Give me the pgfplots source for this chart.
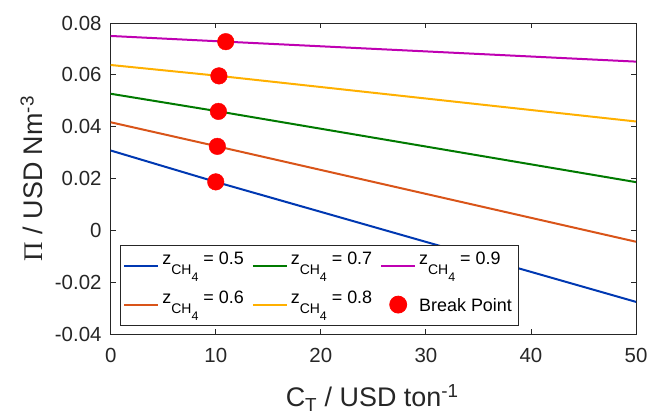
\documentclass[border=0pt]{standalone}
\usepackage{fontspec}
\setmainfont{Liberation Sans}
\newfontfamily\serifgr{Liberation Serif}
\usepackage{pgfplots}
\pgfplotsset{compat=1.18}
\definecolor{cfive}{rgb}{0.0,0.22,0.70}
\definecolor{csix}{rgb}{0.85,0.33,0.10}
\definecolor{cseven}{rgb}{0.0,0.48,0.0}
\definecolor{ceight}{rgb}{1.0,0.69,0.0}
\definecolor{cnine}{rgb}{0.75,0.0,0.70}
\definecolor{axgray}{rgb}{0.15,0.15,0.15}
\newcommand{\zch}{z\raisebox{-10bp}{\fontsize{14}{14}\selectfont CH\raisebox{-7bp}{\fontsize{12.5}{12}\selectfont 4}}}
\newcommand{\legstrut}{\pgfpathmoveto{\pgfqpoint{0bp}{15.8bp}}\pgfpathlineto{\pgfqpoint{0bp}{-18.2bp}}\pgfusepath{discard}}
\pgfplotsset{
  lineleg/.style={legend image code/.code={\legstrut\draw[##1, line width=2bp] (0bp,-1.7bp) -- (34bp,-1.7bp);}},
  markleg/.style={legend image code/.code={\legstrut\draw[##1] plot coordinates {(17bp,-1bp)};}},
}
\begin{document}
\begin{tikzpicture}
\begin{axis}[
  scale only axis, width=525.3bp, height=311bp,
  xmin=0, xmax=50, ymin=-0.04, ymax=0.08,
  xtick={0,10,20,30,40,50},
  ytick={-0.04,-0.02,0,0.02,0.04,0.06,0.08},
  yticklabels={-0.04,-0.02,0,0.02,0.04,0.06,0.08},
  scaled y ticks=false,
  tick align=inside, tick pos=both,
  major tick length=5bp,
  axis line style={draw=axgray, line width=0.8bp},
  every tick/.style={draw=axgray, line width=0.8bp},
  /pgf/number format/assume math mode=true,
  tick label style={font=\fontsize{20.5}{24}\selectfont, text=axgray},
  xticklabel style={inner sep=0pt, anchor=north, yshift=-14bp},
  yticklabel style={inner sep=0pt, anchor=east, xshift=-9bp},
  xlabel={C\textsubscript{T} / USD ton\textsuperscript{-1}},
  ylabel={{\serifgr Π} / USD Nm\textsuperscript{-3}},
  xlabel style={font=\fontsize{27}{30}\selectfont, text=axgray, at={(axis description cs:0.4978,-0.2347)}, anchor=base},
  ylabel style={font=\fontsize{27}{30}\selectfont, text=axgray, at={(axis description cs:-0.1294,0.5)}, anchor=base},
  legend columns=3,
  legend style={at={(axis description cs:0.0177,0.0267)}, anchor=south west,
    draw=axgray, line width=0.8bp, fill=white,
    font=\fontsize{18}{20}\selectfont, text=black,
    inner xsep=3bp, inner ysep=3.5bp,
    nodes={inner xsep=3bp, inner ysep=2bp},
    cells={anchor=base west},
    row sep={39bp,between origins},
    /tikz/every even column/.append style={column sep=5bp}},
]
\coordinate (O) at (rel axis cs:0,0);
\addplot[cfive, line width=2bp, forget plot] coordinates {(0,0.0308) (10.0,0.0187) (50,-0.0276)};
\addplot[csix, line width=2bp, forget plot] coordinates {(0,0.0417) (10.15,0.0324) (50,-0.0044)};
\addplot[cseven, line width=2bp, forget plot] coordinates {(0,0.0527) (10.25,0.0459) (50,0.0186)};
\addplot[ceight, line width=2bp, forget plot] coordinates {(0,0.0638) (10.3,0.0596) (50,0.0420)};
\addplot[cnine, line width=2bp, forget plot] coordinates {(0,0.0750) (10.95,0.0728) (50,0.0651)};
\addplot[only marks, mark=*, mark size=8.3bp, color=red, fill=red, forget plot] coordinates {
  (10.0,0.0187) (10.15,0.0324) (10.25,0.0459) (10.3,0.0596) (10.95,0.0728)};
\addlegendimage{cfive, lineleg}
\addlegendimage{cseven, lineleg}
\addlegendimage{cnine, lineleg}
\addlegendimage{csix, lineleg}
\addlegendimage{ceight, lineleg}
\addlegendimage{only marks, mark=*, mark size=8.5bp, color=red, fill=red, markleg}
\legend{\zch{} = 0.5,
        \zch{} = 0.7,
        \zch{} = 0.9,
        \zch{} = 0.6,
        \zch{} = 0.8,
        \raisebox{-7.7bp}{Break Point}}
\end{axis}
\pgfresetboundingbox
\path (O) ++(-110.7bp,-84bp) rectangle ++(650bp,418bp);
\end{tikzpicture}
\end{document}
